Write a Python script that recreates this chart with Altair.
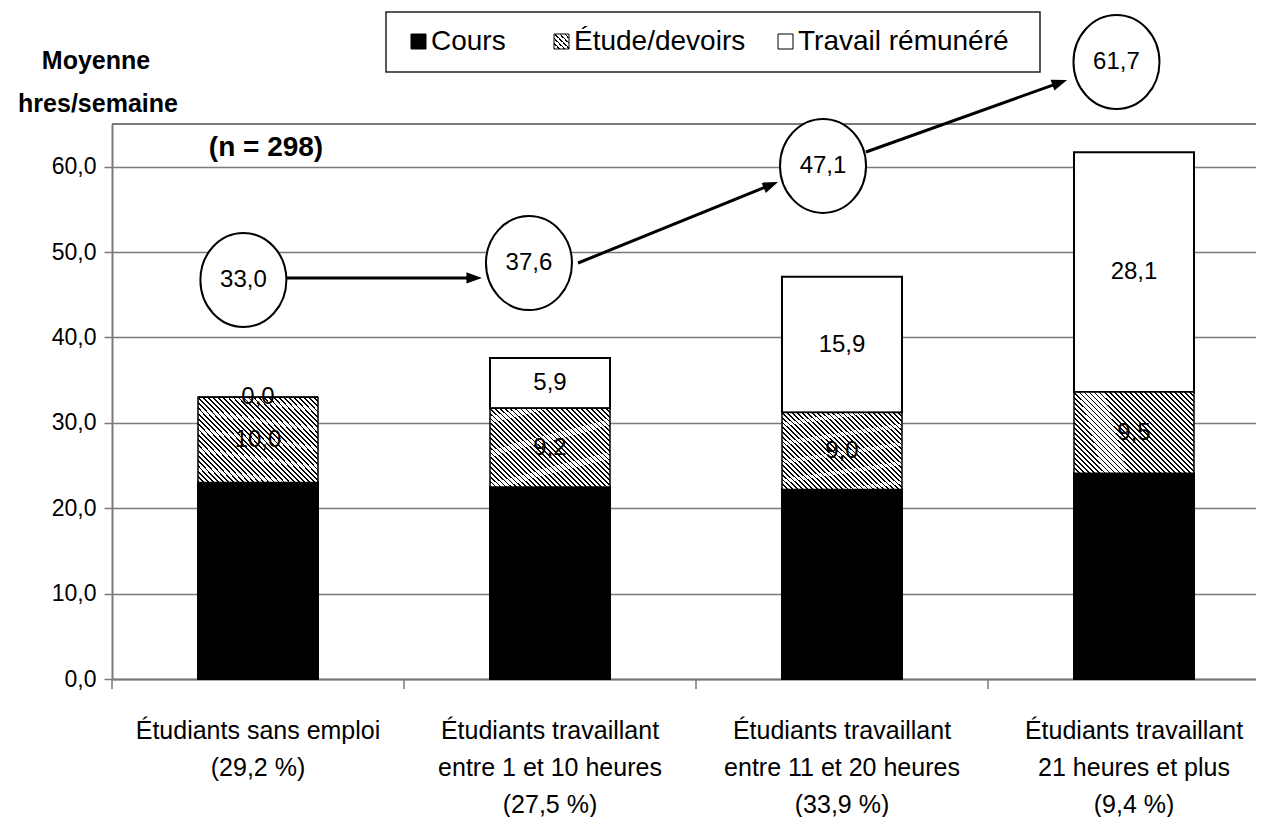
import math
import altair as alt
import pandas as pd

# ---------------- data ----------------
categories = [
    "Étudiants sans emploi\n(29,2 %)",
    "Étudiants travaillant\nentre 1 et 10 heures\n(27,5 %)",
    "Étudiants travaillant\nentre 11 et 20 heures\n(33,9 %)",
    "Étudiants travaillant\n21 heures et plus\n(9,4 %)",
]
series = ["Cours", "Étude/devoirs", "Travail rémunéré"]
cours = [23.0, 22.5, 22.2, 24.1]
etude = [10.0, 9.2, 9.0, 9.5]
travail = [0.0, 5.9, 15.9, 28.1]
totals = [33.0, 37.6, 47.1, 61.7]
y_ticks = [0, 10, 20, 30, 40, 50, 60]

# annotation layout (category units on x, axis units on y)
bubble_x = [0.45, 1.428, 2.435, 3.44]
bubble_y = [46.73, 48.71, 60.09, 72.26]
arrow_from = [(0.59, 46.97), (1.596, 48.72), (2.582, 61.72)]
arrow_to = [(1.267, 46.97), (2.281, 58.21), (3.271, 70.16)]

# ---------------- layout ----------------
W, H = 1168, 555
YMAX = 65
FONT = "Liberation Sans"
GRID = "#7a7a7a"


def fr(v):
    return f"{v:.1f}".replace(".", ",")


rows = []
for i, c in enumerate(categories):
    b0 = 0.0
    for s, vals in zip(series, [cours, etude, travail]):
        v = vals[i]
        rows.append(dict(cat=c, series=s, y0=b0, y1=b0 + v, mid=b0 + v / 2, lab=fr(v)))
        b0 += v
seg = pd.DataFrame(rows)

xband = alt.Scale(domain=categories, paddingInner=0.589, paddingOuter=0.2945)
yscale = alt.Scale(domain=[0, YMAX], nice=False, zero=True)
xq = alt.Scale(domain=[0, len(categories)], nice=False, zero=False)

xaxis = alt.Axis(
    title=None, labelAngle=0, ticks=False, domainColor=GRID, domainWidth=2, grid=False,
    labelExpr="split(datum.label, '\\n')", labelFont=FONT, labelFontSize=25,
    labelLineHeight=37, labelColor="black", labelPadding=39, labelLimit=400,
)
yaxis = alt.Axis(
    title=None, values=y_ticks, labelExpr="replace(format(datum.value, '.1f'), '.', ',')",
    grid=True, gridColor=GRID, gridWidth=1.5, domainColor=GRID, domainWidth=2,
    tickColor=GRID, tickWidth=1.5, tickSize=8, labelFont=FONT, labelFontSize=23,
    labelColor="black", labelPadding=8,
)

X = alt.X("cat:N", scale=xband, sort=categories, axis=xaxis)


def hatch(n, frac, x1, y1, x2, y2):
    stops = []
    for k in range(n):
        a = k / n
        b = (k + frac) / n
        e = (k + 1) / n
        stops += [alt.GradientStop(color="black", offset=a),
                  alt.GradientStop(color="black", offset=b),
                  alt.GradientStop(color="white", offset=b),
                  alt.GradientStop(color="white", offset=e)]
    return alt.LinearGradient(gradient="linear", stops=stops, x1=x1, y1=y1, x2=x2, y2=y2)


bar_hatch = hatch(40, 0.36, 0, 1, 1.149, 0.219)
leg_hatch = hatch(6, 0.36, 0, 1, 1, 0)

base = alt.Chart(seg)
bars = base.transform_filter(alt.datum.series != "Étude/devoirs").mark_bar(
    stroke="black", strokeWidth=2
).encode(
    x=X,
    y=alt.Y("y0:Q", scale=yscale, axis=yaxis),
    y2="y1:Q",
    fill=alt.Fill("series:N", scale=alt.Scale(domain=series, range=["black", "#999999", "white"]), legend=None),
)
hbars = base.transform_filter(alt.datum.series == "Étude/devoirs").mark_bar(
    fill=bar_hatch, stroke="black", strokeWidth=1.5
).encode(x=X, y=alt.Y("y0:Q", scale=yscale, axis=yaxis), y2="y1:Q")
labels = base.transform_filter(alt.datum.series != "Cours").mark_text(
    font=FONT, fontSize=24, color="black", baseline="middle"
).encode(x=X, y=alt.Y("mid:Q", scale=yscale, axis=yaxis), text="lab:N")

main = alt.layer(bars, hbars, labels)

# ------------- annotations -------------
ux = W / float(len(categories))
uy = H / YMAX
arows = []
for (xa, ya), (xb, yb) in zip(arrow_from, arrow_to):
    dx = (xb - xa) * ux
    dy = -(yb - ya) * uy
    L = math.hypot(dx, dy)
    ang = math.degrees(math.atan2(dy, dx)) % 360
    back = 10.0
    xe = xb - (dx / L) * back / ux
    ye = yb + (dy / L) * back / uy
    arows.append(dict(xa=xa, ya=ya, xe=xe, ye=ye, xb=xb, yb=yb, ang=ang))
arr = pd.DataFrame(arows)

bub = pd.DataFrame(dict(bx=bubble_x, by=bubble_y, lab=[fr(t) for t in totals]))
ticks_df = pd.DataFrame({"t": list(range(len(categories) + 1))})

XQ = lambda f: alt.X(f, scale=xq, axis=None)
YQ = lambda f: alt.Y(f, scale=yscale, axis=yaxis)

xticks = alt.Chart(ticks_df).mark_rule(color=GRID, strokeWidth=1.5).encode(
    x=XQ("t:Q"), y=alt.value(H), y2=alt.value(H + 10))
topline = alt.Chart(ticks_df.head(1)).mark_rule(color=GRID, strokeWidth=2).encode(
    x=alt.value(0), x2=alt.value(W), y=alt.value(0))
shafts = alt.Chart(arr).mark_rule(color="black", strokeWidth=3).encode(
    x=XQ("xa:Q"), y=YQ("ya:Q"), x2="xe:Q", y2="ye:Q")
heads = alt.Chart(arr).mark_point(
    shape="M0,0 L-2.2,-0.8 L-2.2,0.8 Z", filled=True, color="black", opacity=1, size=200
).encode(x=XQ("xb:Q"), y=YQ("yb:Q"), angle=alt.Angle("ang:Q", scale=None))
ELL = "M-1,0 A1,1.093 0 1,1 1,0 A1,1.093 0 1,1 -1,0 Z"
circles = alt.Chart(bub).mark_point(
    shape=ELL, size=7396, filled=False, fill="white", fillOpacity=1, stroke="black",
    strokeWidth=2, opacity=1
).encode(x=XQ("bx:Q"), y=YQ("by:Q"))
ctext = alt.Chart(bub).mark_text(font=FONT, fontSize=24, color="black", baseline="middle").encode(
    x=XQ("bx:Q"), y=YQ("by:Q"), text="lab:N")

one = pd.DataFrame({"k": [0]})
deco = []
deco.append(alt.Chart(one).mark_text(font=FONT, fontWeight="bold", fontSize=25, color="black",
                                     baseline="middle", align="center", text="Moyenne").encode(
    x=alt.value(-16), y=alt.value(-63)))
deco.append(alt.Chart(one).mark_text(font=FONT, fontWeight="bold", fontSize=25, color="black",
                                     baseline="middle", align="center", text="hres/semaine").encode(
    x=alt.value(-14), y=alt.value(-20)))
deco.append(alt.Chart(one).mark_text(font=FONT, fontWeight="bold", fontSize=28, color="black",
                                     baseline="middle", align="center", text="(n = 298)").encode(
    x=alt.value(154), y=alt.value(24)))
# legend
deco.append(alt.Chart(one).mark_rect(fill="white", stroke="#222222", strokeWidth=1.5).encode(
    x=alt.value(274), x2=alt.value(928), y=alt.value(-112), y2=alt.value(-52)))
leg_sq_x = [299, 442, 666]
leg_fill = ["black", leg_hatch, "white"]
for s, lx, f in zip(series, leg_sq_x, leg_fill):
    deco.append(alt.Chart(one).mark_rect(fill=f, stroke="black", strokeWidth=1).encode(
        x=alt.value(lx), x2=alt.value(lx + 15), y=alt.value(-90), y2=alt.value(-75)))
    deco.append(alt.Chart(one).mark_text(font=FONT, fontSize=28, color="black", align="left",
                                         baseline="middle", text=s).encode(
        x=alt.value(lx + 20), y=alt.value(-82)))

annot = alt.layer(xticks, topline, shafts, heads, circles, ctext, *deco)

chart = alt.layer(main, annot).resolve_scale(x="independent").properties(
    width=W, height=H,
    autosize=alt.AutoSizeParams(type="none"),
    padding={"left": 104, "top": 116, "right": -24, "bottom": 138},
).configure_view(stroke=None).configure(background="white")

chart.save("out.html", embed_options={"renderer": "svg", "actions": False})
